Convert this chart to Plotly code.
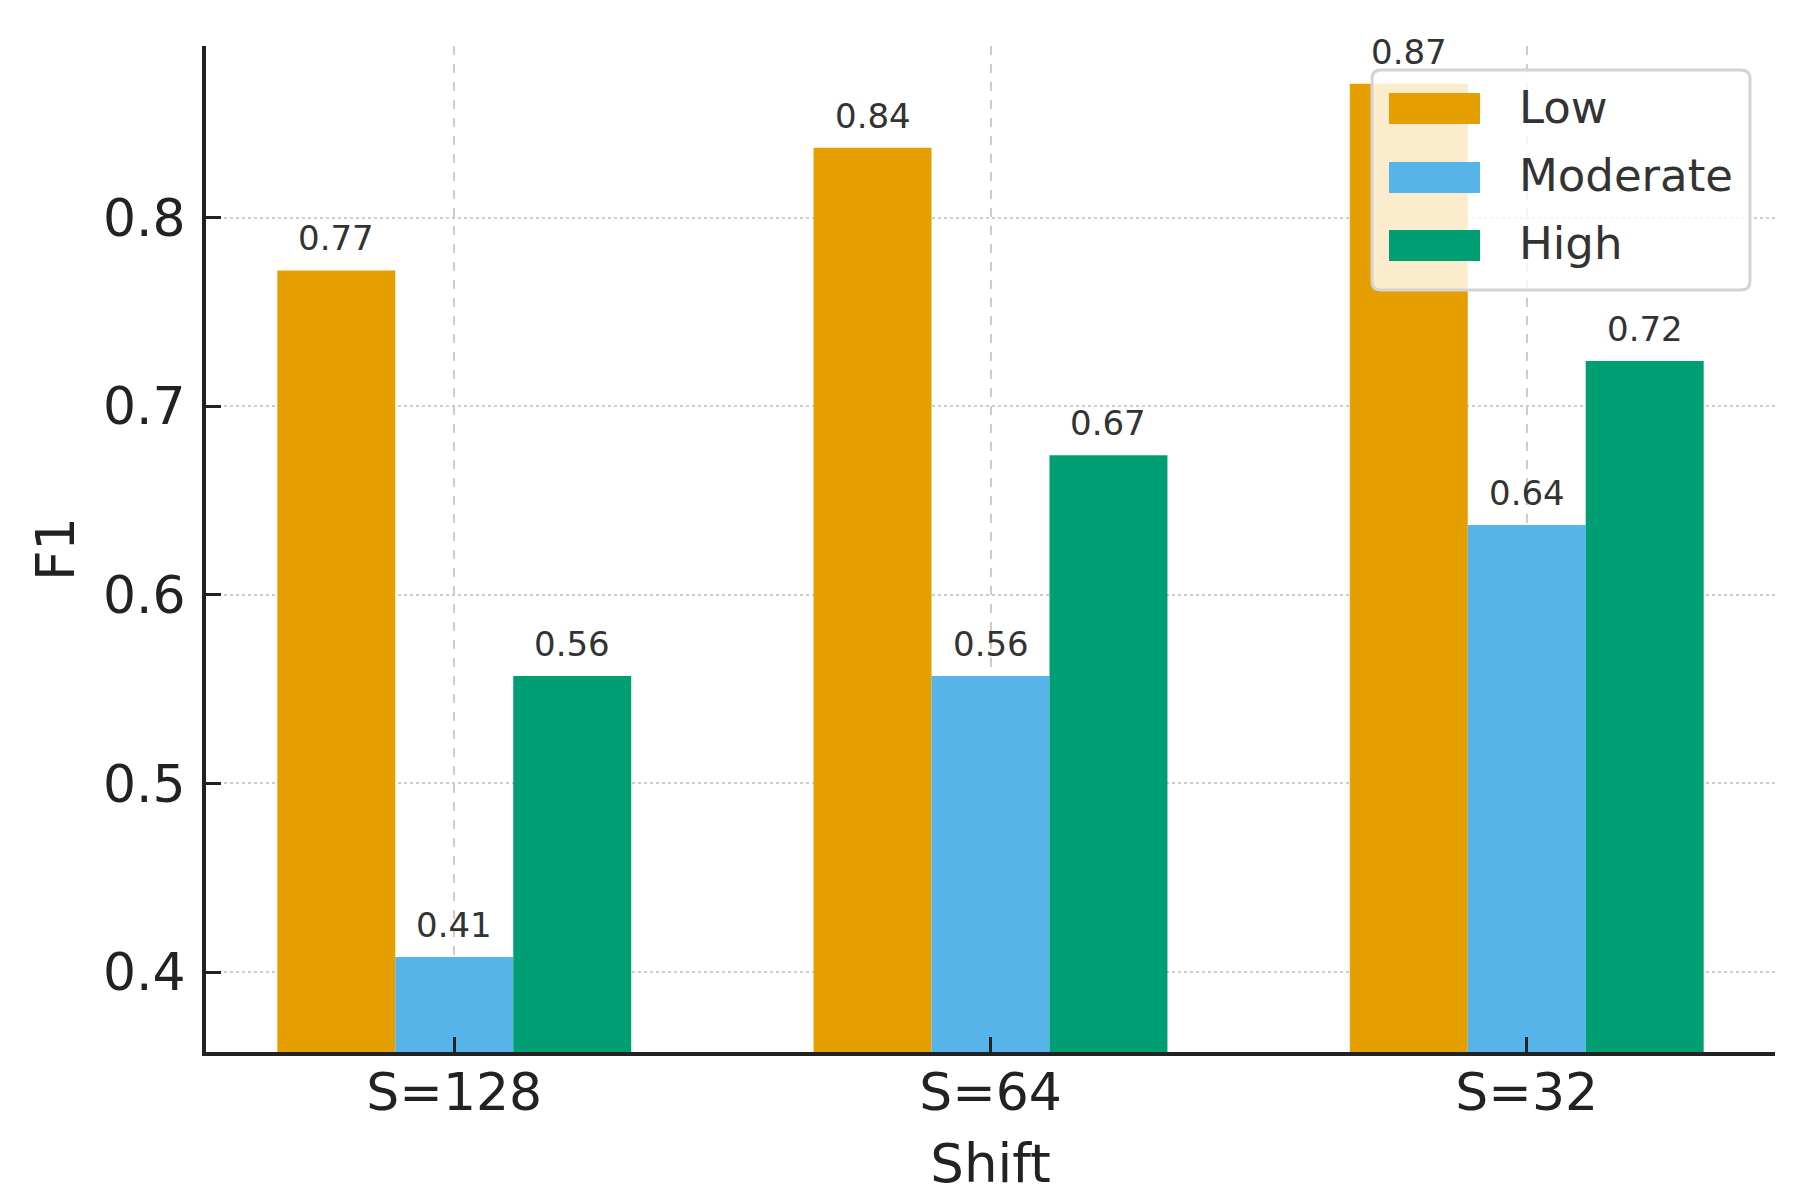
import plotly.graph_objects as go

# ---- data ----
categories = ["S=128", "S=64", "S=32"]
series_names = ["Low", "Moderate", "High"]
low_values = [0.772, 0.837, 0.871]
moderate_values = [0.408, 0.557, 0.637]
high_values = [0.557, 0.674, 0.724]
y_ticks = [0.4, 0.5, 0.6, 0.7, 0.8]

colors = ["#E69F00", "#56B4E9", "#009E73"]
FONT = "DejaVu Sans"
BAR_W = 0.22

# plot area in screenshot pixels (page body has an 8px margin)
PL, PR, PT, PB = 206, 1775, 46, 1052
W, H = 1796, 1200


def px_x(p):
    return (p - PL) / (PR - PL)


def px_y(p):
    return (PB - p) / (PB - PT)


fig = go.Figure()
series = [low_values, moderate_values, high_values]
annotations = []
for k, (name, vals, col) in enumerate(zip(series_names, series, colors)):
    xs = [i + (k - 1) * BAR_W for i in range(len(categories))]
    fig.add_trace(go.Bar(
        x=xs, y=vals, name=name, width=BAR_W, showlegend=False,
        marker=dict(color=col, line=dict(width=0)),
    ))
    for x, v in zip(xs, vals):
        annotations.append(dict(
            x=x, y=v, xref="x", yref="y", text=f"{v:.2f}", showarrow=False,
            yanchor="bottom", xanchor="center", yshift=10,
            font=dict(family=FONT, size=34, color="#333333"),
        ))

# ---- legend (drawn to match the wide swatches of the reference) ----
shapes = []
bx0, bx1, by0, by1, r = px_x(1372), px_x(1750), px_y(70), px_y(290), 9
rx, ry = r / (PR - PL), r / (PB - PT)
path = (f"M{bx0 + rx},{by0} L{bx1 - rx},{by0} Q{bx1},{by0} {bx1},{by0 - ry} "
        f"L{bx1},{by1 + ry} Q{bx1},{by1} {bx1 - rx},{by1} L{bx0 + rx},{by1} "
        f"Q{bx0},{by1} {bx0},{by1 + ry} L{bx0},{by0 - ry} Q{bx0},{by0} {bx0 + rx},{by0} Z")
shapes.append(dict(type="path", xref="paper", yref="paper", path=path,
                   fillcolor="rgba(255,255,255,0.8)", line=dict(color="#d4d4d4", width=3),
                   layer="above"))
sw_top = [93, 162, 230]
for name, col, top in zip(series_names, colors, sw_top):
    shapes.append(dict(type="rect", xref="paper", yref="paper",
                       x0=px_x(1389), x1=px_x(1480), y0=px_y(top), y1=px_y(top + 31),
                       fillcolor=col, line=dict(width=0), layer="above"))
    annotations.append(dict(
        x=px_x(1517), y=px_y(top + 14), xref="paper", yref="paper", text=name,
        showarrow=False, xanchor="left", yanchor="middle",
        font=dict(family=FONT, size=45, color="#333333"),
    ))

fig.update_layout(
    width=W, height=H,
    paper_bgcolor="white", plot_bgcolor="white",
    margin=dict(l=PL - 8, r=W - (PR - 8), t=PT - 8, b=H - (PB - 8)),
    barmode="overlay",
    font=dict(family=FONT, color="#222222"),
    showlegend=False,
    shapes=shapes, annotations=annotations,
)
fig.update_xaxes(
    range=[-0.463, 2.463], tickvals=list(range(len(categories))), ticktext=categories,
    showline=True, linecolor="#222222", linewidth=4,
    ticks="inside", ticklen=15, tickwidth=3, tickcolor="#222222",
    tickfont=dict(family=FONT, size=52, color="#222222"), ticklabelstandoff=-8,
    showgrid=True, gridcolor="#cccccc", gridwidth=2, griddash="dash",
    title=dict(text="Shift", font=dict(family=FONT, size=53, color="#222222"), standoff=24),
    zeroline=False,
)
fig.update_yaxes(
    range=[0.3576, 0.891], tickvals=y_ticks, ticktext=[f"{t:g}" for t in y_ticks],
    showline=True, linecolor="#222222", linewidth=4,
    ticks="inside", ticklen=15, tickwidth=3, tickcolor="#222222",
    tickfont=dict(family=FONT, size=52, color="#222222"), ticklabelstandoff=6,
    showgrid=True, gridcolor="#cccccc", gridwidth=2, griddash="dot",
    title=dict(text="F1", font=dict(family=FONT, size=53, color="#222222"), standoff=12),
    zeroline=False,
)
fig.write_html("out.html")
